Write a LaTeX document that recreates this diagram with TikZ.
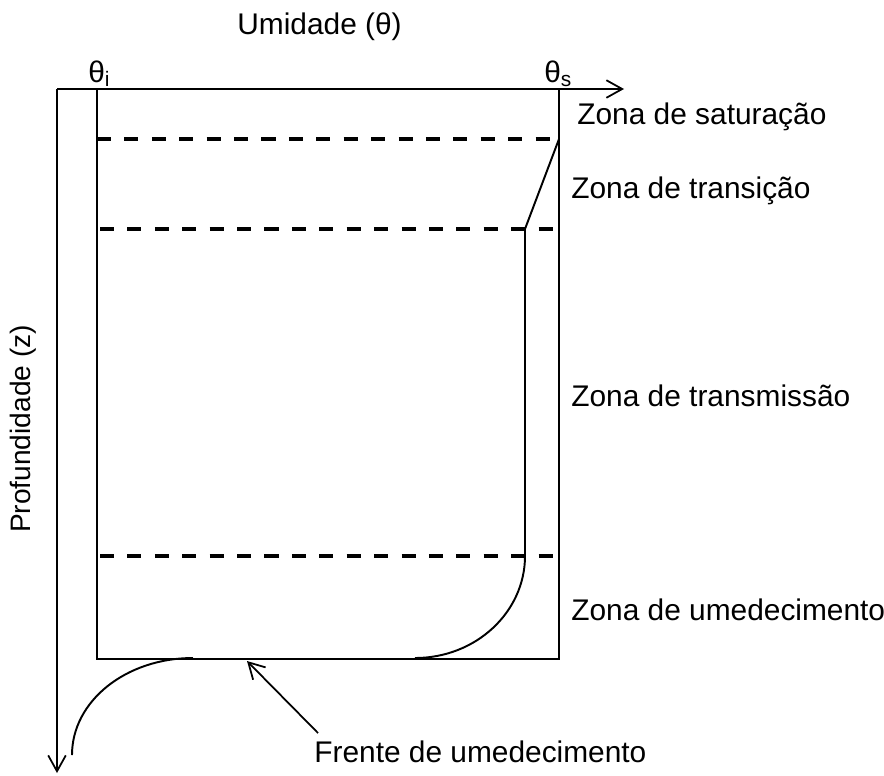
\documentclass[tikz,border=0pt]{standalone}
\usepackage{fontspec}
\setmainfont{Liberation Sans}
\usetikzlibrary{arrows.meta}

\begin{document}
\begin{tikzpicture}[x=0.02cm,y=-0.02cm,
  eixo/.style={line width=1pt,-{Straight Barb[length=9pt,width=10pt,line width=1pt]}},
  perfil/.style={line width=1.1pt},
  limite/.style={line width=2pt,dash pattern=on 8pt off 7.6pt},
  rotulo/.style={inner sep=0pt,anchor=base west,font=\fontsize{17}{20}\selectfont}]
\useasboundingbox (0,0) rectangle (884,775);
% eixos
\coordinate (origem) at (57,89);
\coordinate (fimx) at (624,89);
\coordinate (fimz) at (57,773);
\draw[eixo] (origem) -- (fimx);
\draw[eixo] (origem) -- (fimz);
\draw[line width=1.1pt] (97,89) rectangle (559,659);
% limites das zonas
\draw[limite] (97,139) -- (559,139);
\draw[limite] (100,229) -- (559,229);
\draw[limite] (100,556) -- (559,556);
% perfis de umidade
\draw[perfil] (559,139) -- (525,229) -- (525,556) .. controls (525,612) and (476,658) .. (415,658);
\draw[perfil] (72,755) .. controls (72,701) and (126,658) .. (193,658);
% textos
\node[rotulo] (umidade) at (237,34) {Umidade (θ)};
\node[rotulo] (tetai) at (88,82) {θ\textsubscript{i}};
\node[rotulo] (tetas) at (544,82) {θ\textsubscript{s}};
\node[rotulo] (zsat) at (577,124) {Zona de saturação};
\node[rotulo] (ztrans) at (571,198) {Zona de transição};
\node[rotulo] (ztransm) at (571,406) {Zona de transmissão};
\node[rotulo] (zumed) at (571,620) {Zona de umedecimento};
\node[rotulo] (frente) at (314,762) {Frente de umedecimento};
\node[inner sep=0pt,rotate=90,font=\fontsize{16}{19}\selectfont] (prof) at (23,429) {Profundidade (z)};
\coordinate (cauda) at (318,733);
\coordinate (ponta) at (247,661);
\draw[eixo] (cauda) -- (ponta);
\end{tikzpicture}
\end{document}
